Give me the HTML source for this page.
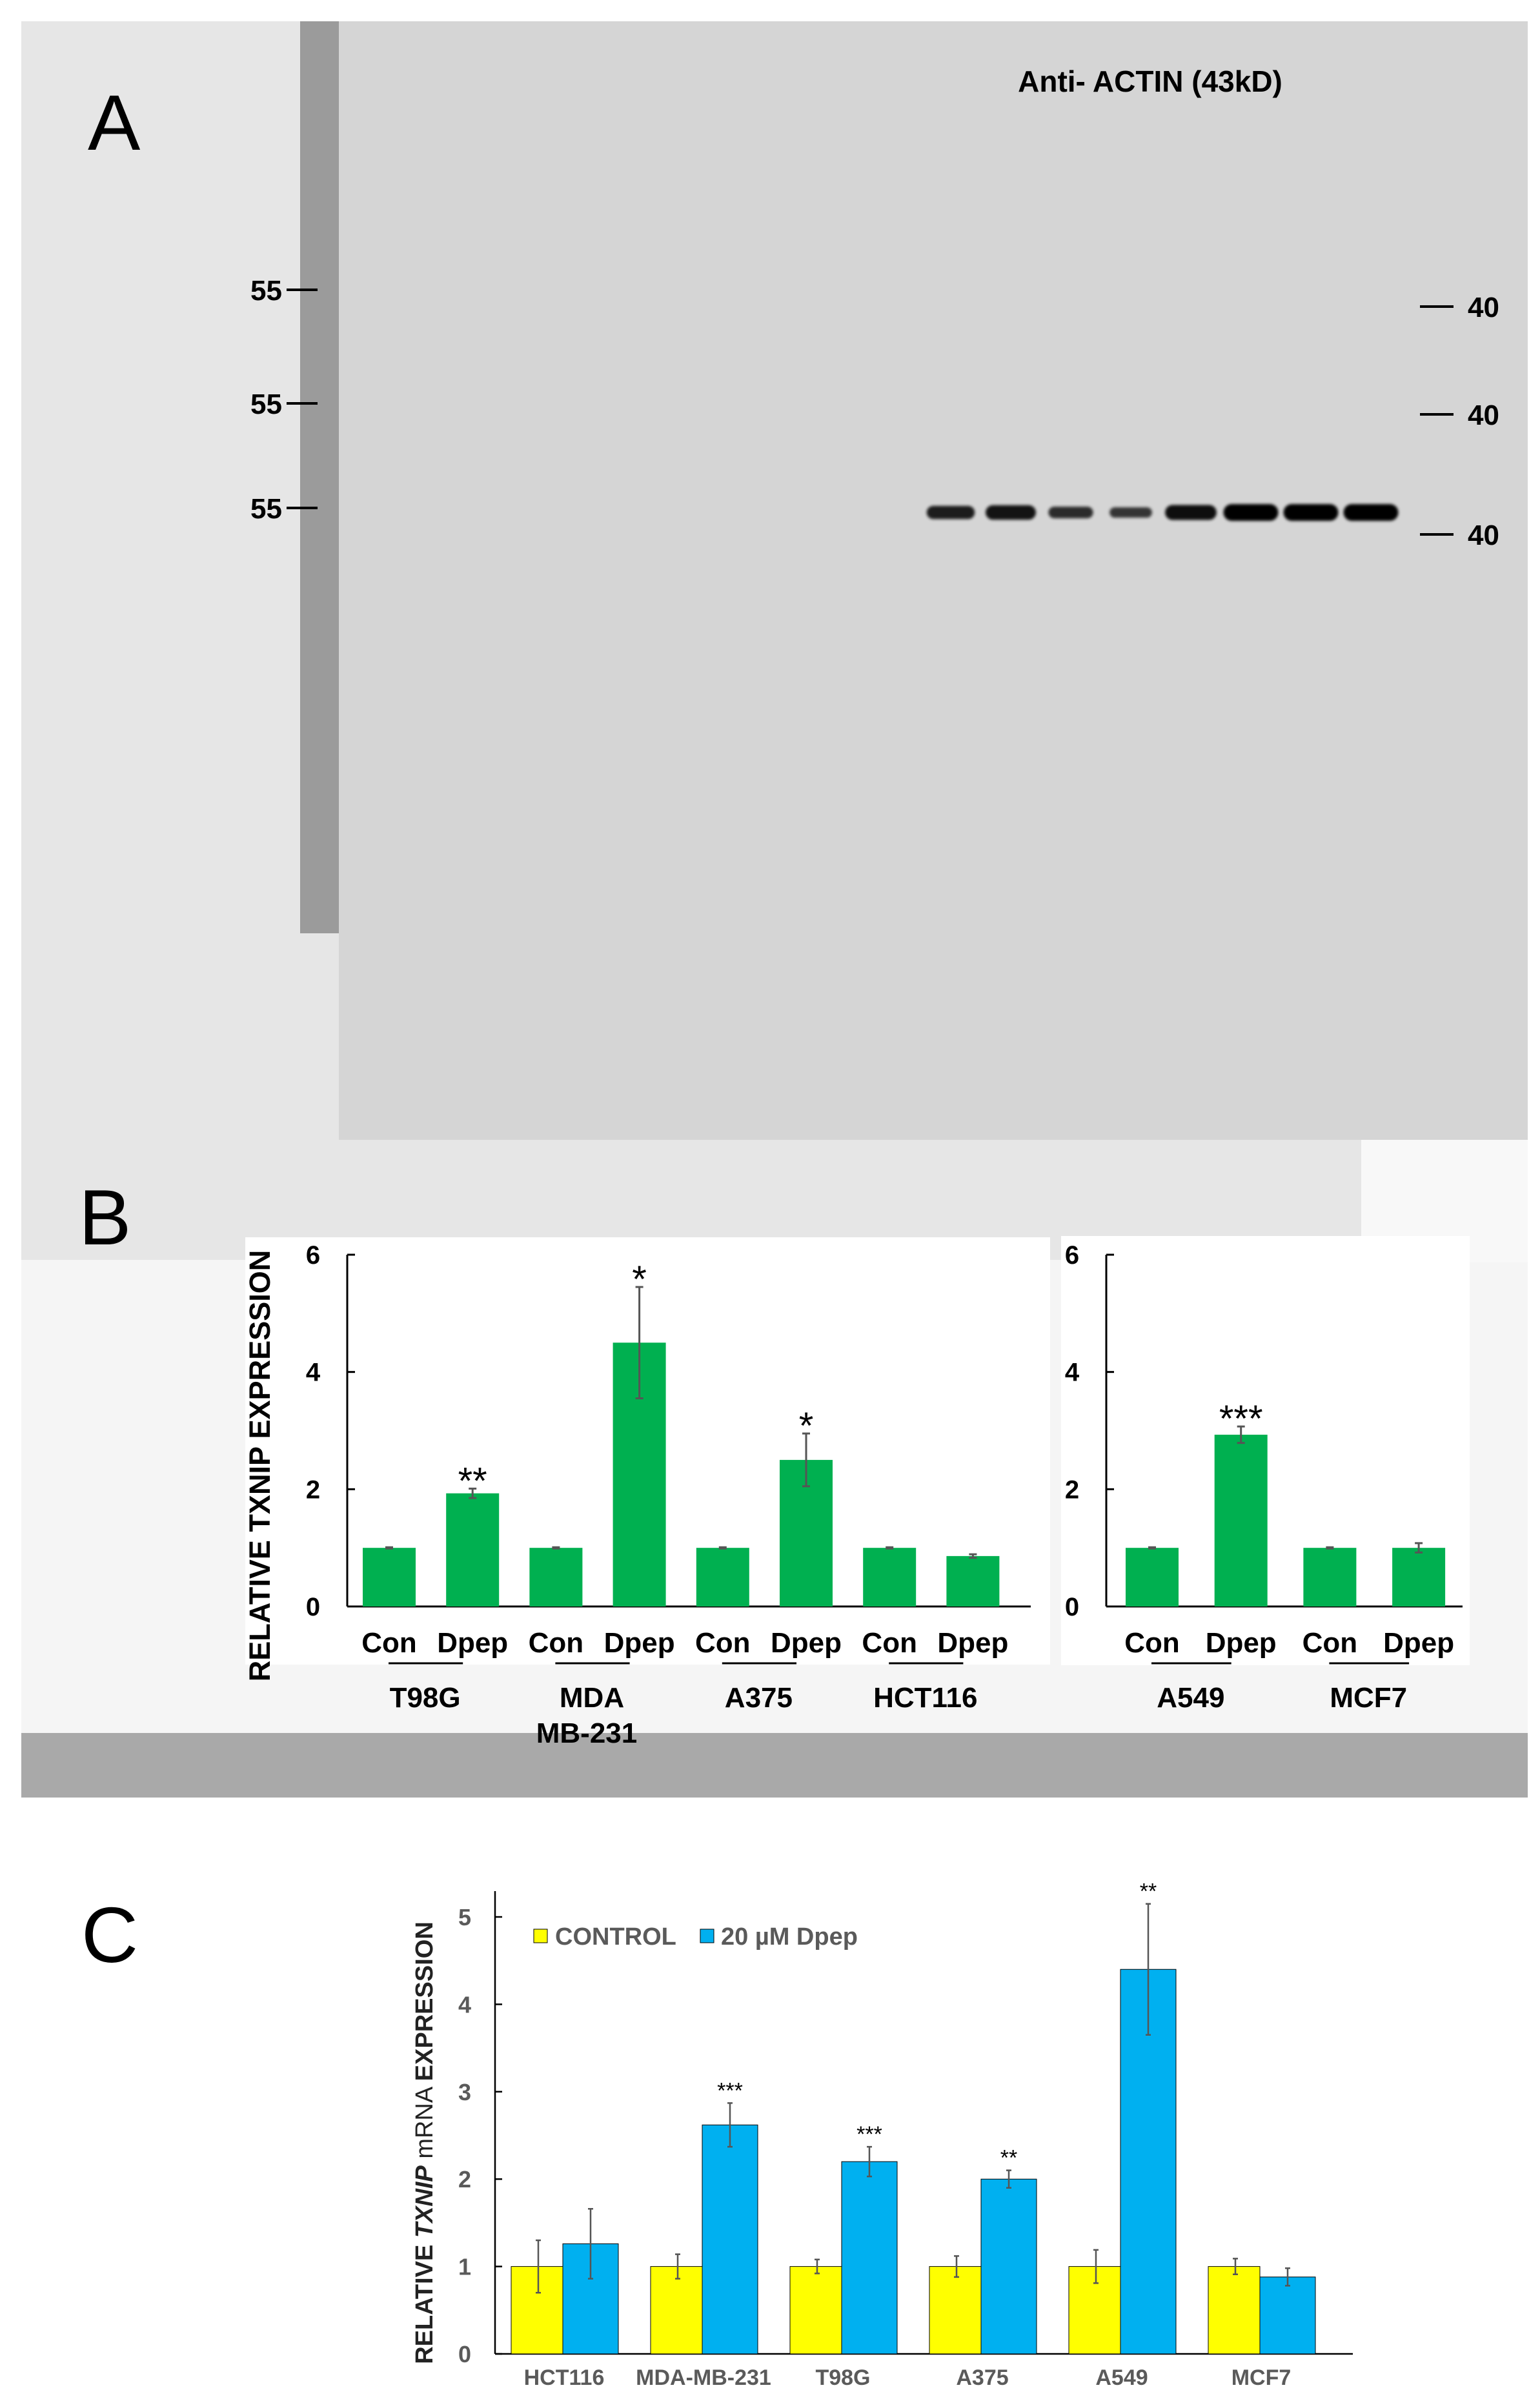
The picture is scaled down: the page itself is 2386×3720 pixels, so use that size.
<!DOCTYPE html>
<html><head><meta charset="utf-8"><style>
html,body{margin:0;padding:0;background:#fff}
svg{display:block}
text{font-family:"Liberation Sans",sans-serif}
</style></head><body>
<svg id="fig" width="2386" height="3720" viewBox="0 0 2386 3720" xmlns="http://www.w3.org/2000/svg">
<defs>
<filter id="blur" x="-10%" y="-100%" width="120%" height="300%"><feGaussianBlur stdDeviation="2.5"/></filter>
</defs>
<g>
<rect x="33" y="33" width="2076" height="1919" fill="#e6e6e6"/>
<rect x="525" y="33" width="1842" height="1733" fill="#d5d5d5"/>
<rect x="465" y="33" width="60" height="1413" fill="#9b9b9b"/>
<text x="136" y="232" font-size="122" fill="#000">A</text>
<text x="1782" y="142" font-size="46" font-weight="bold" text-anchor="middle" fill="#000">Anti- ACTIN (43kD)</text>
<g id="markers"></g>
<g id="bands"></g>
</g>
<g>
<rect x="33" y="1952" width="2334" height="733" fill="#f5f5f5"/>
<rect x="2109" y="1766" width="258" height="190" fill="#f8f8f8"/>
<rect x="380" y="1917" width="1247" height="662" fill="#fff"/>
<rect x="1644" y="1915" width="633" height="665" fill="#fff"/>
<rect x="33" y="2685" width="2334" height="100" fill="#a9a9a9"/>
<text x="122" y="1928" font-size="122" fill="#000">B</text>
<text transform="translate(418,2271) rotate(-90)" font-size="45" font-weight="bold" text-anchor="middle">RELATIVE TXNIP EXPRESSION</text>
<g id="chartB"></g>
</g>
<g>
<text x="126" y="3040" font-size="122" fill="#000">C</text>
<text transform="translate(670,3320) rotate(-90)" font-size="38" text-anchor="middle" fill="#222"><tspan font-weight="bold">RELATIVE </tspan><tspan font-weight="bold" font-style="italic">TXNIP</tspan><tspan> mRNA </tspan><tspan font-weight="bold">EXPRESSION</tspan></text>
<rect x="827" y="2989" width="21" height="21" fill="#ffff00" stroke="#000" stroke-width="1"/>
<text x="860" y="3013" font-size="38" font-weight="bold" fill="#5a5a5a">CONTROL</text>
<rect x="1085" y="2989" width="21" height="21" fill="#00b0f0" stroke="#000" stroke-width="1"/>
<text x="1117" y="3013" font-size="38" font-weight="bold" fill="#5a5a5a">20 µM Dpep</text>
<g id="chartC"></g>
</g>
</svg>
<script>
const NS='http://www.w3.org/2000/svg';
function mk(parent,tag,attrs,txt){const e=document.createElementNS(NS,tag);for(const k in attrs)e.setAttribute(k,attrs[k]);if(txt!==undefined)e.textContent=txt;parent.appendChild(e);return e;}

// ---- Panel A data ----
const leftMarkerLabels=['55','55','55'];
const rightMarkerLabels=['40','40','40'];
const bandIntensity=[0.7,0.8,0.55,0.45,0.85,1,1,1];
const mk1=document.getElementById('markers');
[449,625,787].forEach((y,i)=>{
 const t=mk(mk1,'text',{x:437,y:y+16,'font-size':44,'font-weight':'bold','text-anchor':'end'},leftMarkerLabels[i]);
 
 
 const l=mk(mk1,'line',{x1:444,x2:492,y1:y,y2:y,stroke:'#000','stroke-width':4});
 
 
});
[475,642,828].forEach((y,i)=>{
 const l=mk(mk1,'line',{x1:2200,x2:2252,y1:y,y2:y,stroke:'#000','stroke-width':4});
 
 
 const t=mk(mk1,'text',{x:2274,y:y+16,'font-size':44,'font-weight':'bold'},rightMarkerLabels[i]);
 
 
});
const bg=document.getElementById('bands');
const laneX0=1431, laneW=93;
bandIntensity.forEach((v,i)=>{
 const w=50+35*v, h=8+18*v;
 const cx=laneX0+laneW*i+42;
 const r=mk(bg,'rect',{x:cx-w/2,y:794-h/2,width:w,height:h,rx:h/2,fill:'#000',opacity:0.55+0.45*v,filter:'url(#blur)'});
 
 
});

// ---- Panel B data ----
const bLeftValues=[1,1.93,1,4.5,1,2.5,1,0.86];
const bLeftErr=[0.01,0.08,0.01,0.95,0.01,0.45,0.01,0.03];
const bLeftStars=['','**','','*','','*','',''];
const bLeftGroups=['T98G','MDA','A375','HCT116'];
const bRightValues=[1,2.93,1,1];
const bRightErr=[0.01,0.14,0.01,0.08];
const bRightStars=['','***','',''];
const bRightGroups=['A549','MCF7'];
const bTicks=[0,2,4,6];

const cB=document.getElementById('chartB');
const bY0=2489, bUnit=(2489-1944)/6;
function yB(v){return bY0-v*bUnit;}
function drawB(axisX,axisEnd,barX0,pitch,vals,errs,stars,groups,name){
 const ax=mk(cB,'line',{x1:axisX,x2:axisX,y1:yB(6),y2:bY0,stroke:'#000','stroke-width':3});
 
 
 const xx=mk(cB,'line',{x1:axisX,x2:axisEnd,y1:bY0,y2:bY0,stroke:'#000','stroke-width':3});
 
 
 bTicks.forEach(t=>{
  const tk=mk(cB,'line',{x1:axisX,x2:axisX+12,y1:yB(t),y2:yB(t),stroke:'#000','stroke-width':3});
  
  
  const tl=mk(cB,'text',{x:axisX-53,y:yB(t)+14,'font-size':40,'font-weight':'bold','text-anchor':'middle'},String(t));
  
  
 });
 vals.forEach((v,i)=>{
  const x=barX0+pitch*i, w=82, cx=x+w/2;
  const b=mk(cB,'rect',{x:x,y:yB(v),width:w,height:bY0-yB(v),fill:'#00b050'});
  
  
  const e=errs[i];
  const el=mk(cB,'path',{d:`M${cx} ${yB(v+e)}V${yB(v-e)}M${cx-6} ${yB(v+e)}H${cx+6}M${cx-6} ${yB(v-e)}H${cx+6}`,stroke:'#555','stroke-width':3,fill:'none'});
  
  
  if(stars[i]){
   const s=mk(cB,'text',{x:cx,y:yB(v+e)+8,'font-size':58,'text-anchor':'middle'},stars[i]);
   
   
  }
  const lb=mk(cB,'text',{x:cx,y:2560,'font-size':44,'font-weight':'bold','text-anchor':'middle'},i%2?'Dpep':'Con');
  
  
 });
 groups.forEach((g,j)=>{
  const c1=barX0+pitch*2*j+40, c2=c1+pitch;
  const ul=mk(cB,'line',{x1:c1,x2:c2-14,y1:2577,y2:2577,stroke:'#000','stroke-width':3});
  
  
  const gt=mk(cB,'text',{x:(c1+c2)/2-8,y:2645,'font-size':44,'font-weight':'bold','text-anchor':'middle'},g);
  
  
  if(g==='MDA'){
   const g2=mk(cB,'text',{x:(c1+c2)/2-16,y:2700,'font-size':44,'font-weight':'bold','text-anchor':'middle'},'MB-231');
   
   
  }
 });
}
drawB(538,1597,562,129.2,bLeftValues,bLeftErr,bLeftStars,bLeftGroups,'chart-b-left');
drawB(1714,2266,1744,137.7,bRightValues,bRightErr,bRightStars,bRightGroups,'chart-b-right');

// ---- Panel C data ----
const cCategories=['HCT116','MDA-MB-231','T98G','A375','A549','MCF7'];
const cControl=[1,1,1,1,1,1];
const cControlErr=[0.3,0.14,0.08,0.12,0.19,0.09];
const cDpep=[1.26,2.62,2.2,2.0,4.4,0.88];
const cDpepErr=[0.4,0.25,0.17,0.1,0.75,0.1];
const cStars=['','***','***','**','**',''];
const cTicks=[0,1,2,3,4,5];

const cC=document.getElementById('chartC');
const cY0=3647, cUnit=(3647-2970)/5, cAxis=767, cEnd=2096, gX0=792, gPitch=216;
function yC(v){return cY0-v*cUnit;}
const ya=mk(cC,'line',{x1:cAxis,x2:cAxis,y1:2930,y2:cY0,stroke:'#000','stroke-width':2.5});


const xa=mk(cC,'line',{x1:cAxis,x2:cEnd,y1:cY0,y2:cY0,stroke:'#000','stroke-width':2.5});


cTicks.forEach(t=>{
 const tk=mk(cC,'line',{x1:cAxis,x2:cAxis+11,y1:yC(t),y2:yC(t),stroke:'#000','stroke-width':2.5});
 
 
 const tl=mk(cC,'text',{x:720,y:yC(t)+13,'font-size':36,'font-weight':'bold','fill':'#5a5a5a','text-anchor':'middle'},String(t));
 
 
});
function errC(cx,v,e){
 const el=mk(cC,'path',{d:`M${cx} ${yC(v+e)}V${yC(v-e)}M${cx-4} ${yC(v+e)}H${cx+4}M${cx-4} ${yC(v-e)}H${cx+4}`,stroke:'#555','stroke-width':2.5,fill:'none'});
 
 
}
cCategories.forEach((c,i)=>{
 const x=gX0+gPitch*i;
 const by=mk(cC,'rect',{x:x,y:yC(cControl[i]),width:80,height:cY0-yC(cControl[i]),fill:'#ffff00',stroke:'#000','stroke-width':1});
 
 
 const bb=mk(cC,'rect',{x:x+80,y:yC(cDpep[i]),width:86,height:cY0-yC(cDpep[i]),fill:'#00b0f0',stroke:'#000','stroke-width':1});
 
 
 errC(x+42,cControl[i],cControlErr[i]);
 errC(x+123,cDpep[i],cDpepErr[i]);
 if(cStars[i]){
  const s=mk(cC,'text',{x:x+123,y:yC(cDpep[i]+cDpepErr[i])-8,'font-size':34,'text-anchor':'middle'},cStars[i]);
  
  
 }
 const lb=mk(cC,'text',{x:x+82,y:3695,'font-size':34,'font-weight':'bold',fill:'#5a5a5a','text-anchor':'middle'},c);
 
 
});
</script>
</body></html>
